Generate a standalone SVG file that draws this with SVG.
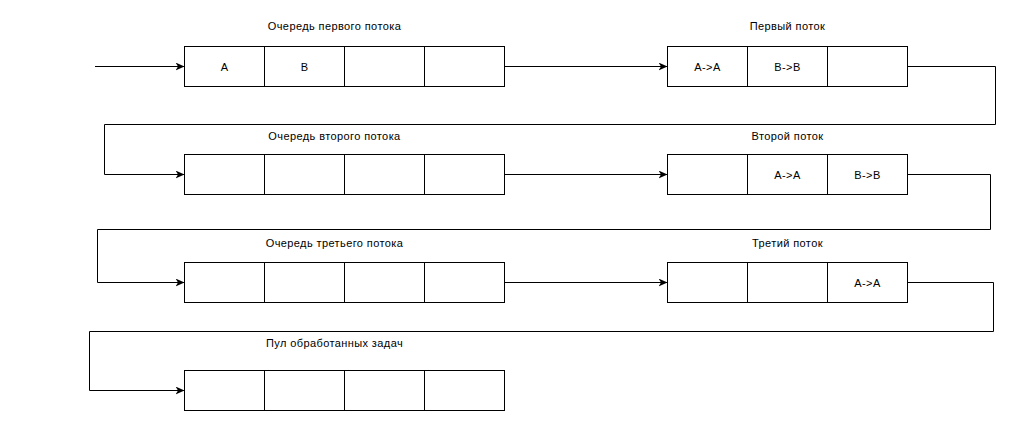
<svg xmlns="http://www.w3.org/2000/svg" width="1011" height="426" viewBox="0 0 1011 426">
<style>
.cell{fill:#fff;stroke:#000;stroke-width:1}
.lbl{font-family:"Liberation Sans",Arial,sans-serif;font-size:11px;letter-spacing:0.4px;fill:#000;text-anchor:middle}
.con{fill:none;stroke:#000;stroke-width:1}
</style>
<defs>
<marker id="arr" markerWidth="10" markerHeight="8" refX="9" refY="4" orient="auto" markerUnits="userSpaceOnUse">
<path d="M0,0 L9,4 L0,8 L2.5,4 Z" fill="#000"/>
</marker>
</defs>
<rect width="1011" height="426" fill="#fff"/>
<g id="connectors">
<path class="con" d="M95,66.5 H184.5" marker-end="url(#arr)"/>
<path class="con" d="M504.5,66.5 H667.5" marker-end="url(#arr)"/>
<path class="con" d="M907.5,66.5 H995.5 V124.5 H104.5 V174.5 H184.5" marker-end="url(#arr)"/>
<path class="con" d="M504.5,174.5 H667.5" marker-end="url(#arr)"/>
<path class="con" d="M907.5,174.5 H990.5 V229.5 H97.5 V282.5 H184.5" marker-end="url(#arr)"/>
<path class="con" d="M504.5,282.5 H667.5" marker-end="url(#arr)"/>
<path class="con" d="M907.5,282.5 H993.5 V331.5 H89.5 V390.5 H184.5" marker-end="url(#arr)"/>
</g>
<g id="queue1">
<text class="lbl" x="334.5" y="30">Очередь первого потока</text>
<rect class="cell" x="184.5" y="46.5" width="80" height="40"/>
<rect class="cell" x="264.5" y="46.5" width="80" height="40"/>
<rect class="cell" x="344.5" y="46.5" width="80" height="40"/>
<rect class="cell" x="424.5" y="46.5" width="80" height="40"/>
<text class="lbl" x="224.5" y="70.5">A</text>
<text class="lbl" x="304.5" y="70.5">B</text>
</g>
<g id="thread1">
<text class="lbl" x="787.5" y="30">Первый поток</text>
<rect class="cell" x="667.5" y="46.5" width="80" height="40"/>
<rect class="cell" x="747.5" y="46.5" width="80" height="40"/>
<rect class="cell" x="827.5" y="46.5" width="80" height="40"/>
<text class="lbl" x="707.5" y="70.5">A-&gt;A</text>
<text class="lbl" x="787.5" y="70.5">B-&gt;B</text>
</g>
<g id="queue2">
<text class="lbl" x="334.5" y="140">Очередь второго потока</text>
<rect class="cell" x="184.5" y="154.5" width="80" height="40"/>
<rect class="cell" x="264.5" y="154.5" width="80" height="40"/>
<rect class="cell" x="344.5" y="154.5" width="80" height="40"/>
<rect class="cell" x="424.5" y="154.5" width="80" height="40"/>
</g>
<g id="thread2">
<text class="lbl" x="787.5" y="140">Второй поток</text>
<rect class="cell" x="667.5" y="154.5" width="80" height="40"/>
<rect class="cell" x="747.5" y="154.5" width="80" height="40"/>
<rect class="cell" x="827.5" y="154.5" width="80" height="40"/>
<text class="lbl" x="787.5" y="178.5">A-&gt;A</text>
<text class="lbl" x="867.5" y="178.5">B-&gt;B</text>
</g>
<g id="queue3">
<text class="lbl" x="334.5" y="247">Очередь третьего потока</text>
<rect class="cell" x="184.5" y="262.5" width="80" height="40"/>
<rect class="cell" x="264.5" y="262.5" width="80" height="40"/>
<rect class="cell" x="344.5" y="262.5" width="80" height="40"/>
<rect class="cell" x="424.5" y="262.5" width="80" height="40"/>
</g>
<g id="thread3">
<text class="lbl" x="787.5" y="247">Третий поток</text>
<rect class="cell" x="667.5" y="262.5" width="80" height="40"/>
<rect class="cell" x="747.5" y="262.5" width="80" height="40"/>
<rect class="cell" x="827.5" y="262.5" width="80" height="40"/>
<text class="lbl" x="867.5" y="286.5">A-&gt;A</text>
</g>
<g id="pool">
<text class="lbl" x="334.5" y="347">Пул обработанных задач</text>
<rect class="cell" x="184.5" y="370.5" width="80" height="40"/>
<rect class="cell" x="264.5" y="370.5" width="80" height="40"/>
<rect class="cell" x="344.5" y="370.5" width="80" height="40"/>
<rect class="cell" x="424.5" y="370.5" width="80" height="40"/>
</g>
</svg>
